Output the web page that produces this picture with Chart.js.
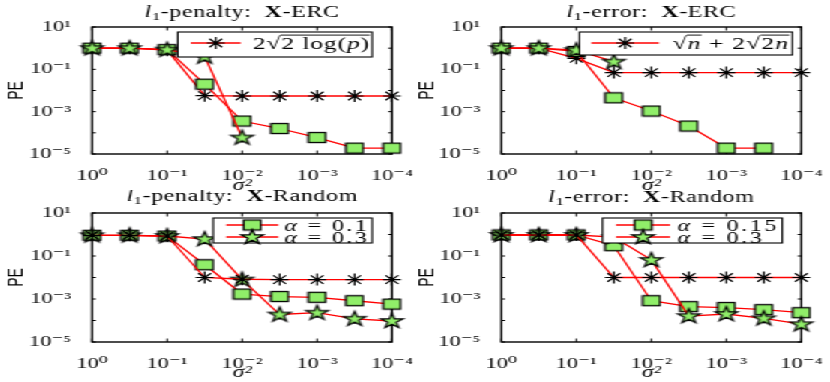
<!DOCTYPE html>
<html><head><meta charset="utf-8">
<script src="https://cdn.jsdelivr.net/npm/chart.js@4.4.1/dist/chart.umd.min.js"></script>
<style>
html,body{margin:0;padding:0;background:#fff;width:830px;height:382px;overflow:hidden}
#wrap{position:absolute;left:0;top:0;width:553.34px;height:382px;transform:scaleX(1.5);transform-origin:0 0}
.cell{position:absolute}
canvas{display:block}
</style></head><body>
<div id="wrap">
 <div class="cell" style="left:0px;top:0px;width:277px;height:195px"><canvas id="k0" width="277" height="195"></canvas></div>
 <div class="cell" style="left:276.67px;top:0px;width:277px;height:195px"><canvas id="k1" width="277" height="195"></canvas></div>
 <div class="cell" style="left:0px;top:190px;width:277px;height:192px"><canvas id="k2" width="277" height="192"></canvas></div>
 <div class="cell" style="left:276.67px;top:190px;width:277px;height:192px"><canvas id="k3" width="277" height="192"></canvas></div>
</div>
<script>
// ---------- data ----------
const sigma2 = [1, 0.3162, 0.1, 0.03162, 0.01, 0.003162, 0.001, 0.0003162, 0.0001];
const xTickValues = [1, 0.1, 0.01, 0.001, 0.0001];
const xTickLabels = ['10\u2070', '10\u207B\u00B9', '10\u207B\u00B2', '10\u207B\u00B3', '10\u207B\u2074'];
const yTickValues = [10, 0.1, 0.001, 0.00001];
const yTickLabels = ['10\u00B9', '10\u207B\u00B9', '10\u207B\u00B3', '10\u207B\u2075'];
const xMarkDecades = [1, 0.1, 0.01, 0.001, 0.0001];
const yMarkDecades = [10, 1, 0.1, 0.01, 0.001, 0.0001, 0.00001];

// l1-penalty, X-ERC
const ercPenAsterisk = [1.0, 1.0, 0.8, 0.0057, 0.0055, 0.0055, 0.0055, 0.0055, 0.0055];
const ercPenSquare   = [1.0, 1.0, 0.85, 0.02, 3.6e-4, 1.6e-4, 6e-5, 1.9e-5, 1.9e-5];
const ercPenStar     = [1.0, 1.0, 0.85, 0.4, 6e-5, null, null, null, null];
// l1-error, X-ERC
const ercErrAsterisk = [1.0, 1.0, 0.33, 0.07, 0.07, 0.07, 0.07, 0.07, 0.07];
const ercErrSquare   = [1.0, 1.0, 0.7, 0.0045, 1.07e-3, 2.1e-4, 1.9e-5, 1.9e-5, null];
const ercErrStar     = [1.0, 1.0, 0.8, 0.23, null, null, null, null, null];
// l1-penalty, X-Random
const rndPenAsterisk = [0.92, 0.92, 0.85, 0.01, 0.0083, 0.008, 0.008, 0.008, 0.008];
const rndPenSquare   = [0.92, 0.92, 0.85, 0.039, 1.7e-3, 1.3e-3, 1.2e-3, 8.3e-4, 5.8e-4];
const rndPenStar     = [0.92, 0.92, 0.85, 0.61, 0.008, 1.9e-4, 2.3e-4, 1.2e-4, 9.5e-5];
// l1-error, X-Random
const rndErrAsterisk = [0.95, 0.95, 0.95, 0.01, 0.01, 0.01, 0.01, 0.01, 0.01];
const rndErrSquare   = [0.95, 0.95, 0.95, 0.3, 8.3e-4, 4.4e-4, 4e-4, 3.2e-4, 2.3e-4];
const rndErrStar     = [0.95, 0.95, 0.95, 0.75, 0.066, 1.6e-4, 2e-4, 1.26e-4, 6.7e-5];

// ---------- styling ----------
const S = "'Liberation Serif','DejaVu Serif','Times New Roman',serif";
const GREEN = '#90ee69';
const RED = '#ff0000';

function makeStarCanvas() {
  const c = document.createElement('canvas'); c.width = 20; c.height = 20;
  const g = c.getContext('2d');
  const R = 7.8, r = R * 0.382;
  g.beginPath();
  for (let k = 0; k < 10; k++) {
    const a = -Math.PI / 2 + k * Math.PI / 5, rr = (k % 2) ? r : R;
    g.lineTo(10 + rr * Math.cos(a), 10.3 + rr * Math.sin(a));
  }
  g.closePath(); g.fillStyle = GREEN; g.fill();
  g.lineWidth = 1.2; g.strokeStyle = '#000'; g.lineJoin = 'miter'; g.stroke();
  return c;
}
function makeSquareCanvas() {
  const c = document.createElement('canvas'); c.width = 14; c.height = 13;
  const g = c.getContext('2d');
  g.fillStyle = GREEN; g.fillRect(1.3, 1.5, 11.4, 10);
  g.lineWidth = 1.3; g.strokeStyle = '#000'; g.strokeRect(1.3, 1.5, 11.4, 10);
  return c;
}
const STAR = makeStarCanvas();
const SQUARE = makeSquareCanvas();

function markerProps(kind) {
  if (kind === 'ast') return {pointStyle: 'star', pointRadius: 6, pointBorderColor: '#000', pointBackgroundColor: '#000', pointBorderWidth: 1.2};
  if (kind === 'sq') return {pointStyle: SQUARE, pointRadius: 6, pointBorderColor: '#000', pointBackgroundColor: GREEN, pointBorderWidth: 1};
  return {pointStyle: STAR, pointRadius: 6, pointBorderColor: '#000', pointBackgroundColor: GREEN, pointBorderWidth: 1};
}
function drawLegendMarker(ctx, kind, x, y) {
  if (kind === 'ast') {
    const r = 6, d = r * Math.SQRT1_2;
    ctx.save(); ctx.strokeStyle = '#000'; ctx.lineWidth = 1.2; ctx.beginPath();
    ctx.moveTo(x - r, y); ctx.lineTo(x + r, y); ctx.moveTo(x, y - r); ctx.lineTo(x, y + r);
    ctx.moveTo(x - d, y - d); ctx.lineTo(x + d, y + d); ctx.moveTo(x - d, y + d); ctx.lineTo(x + d, y - d);
    ctx.stroke(); ctx.restore();
  } else {
    const img = kind === 'sq' ? SQUARE : STAR;
    ctx.drawImage(img, x - img.width / 2, y - img.height / 2);
  }
}

function drawRich(ctx, segs, x, y, align, ls) {
  ctx.save();
  if ('letterSpacing' in ctx) ctx.letterSpacing = ls || '0px';
  let total = 0; const ws = [];
  for (const s of segs) { ctx.font = s.f; const w = ctx.measureText(s.t).width; ws.push(w); total += w; }
  let cx = align === 'center' ? x - total / 2 : (align === 'right' ? x - total : x);
  let ovStart = null, ovEnd = null, ovY = null;
  ctx.fillStyle = '#000'; ctx.textBaseline = 'alphabetic'; ctx.textAlign = 'left';
  segs.forEach((s, i) => {
    ctx.font = s.f;
    ctx.fillText(s.t, cx, y + (s.dy || 0));
    if (s.root) { const m = ctx.measureText(s.t); ovY = y - m.actualBoundingBoxAscent + 0.6; }
    if (s.ov) { if (ovStart === null) ovStart = cx; ovEnd = cx + ws[i]; }
    if (s.ovEnd) {
      ctx.save(); ctx.strokeStyle = '#000'; ctx.lineWidth = 0.9; ctx.beginPath();
      ctx.moveTo(ovStart - 0.5, ovY); ctx.lineTo(ovEnd, ovY); ctx.stroke(); ctx.restore();
      ovStart = null;
    }
    cx += ws[i];
  });
  ctx.restore();
  return total;
}

const T = 16, LF = '17px ' + S, AF = '16px ' + S;
function titleSegs(kind, name) {
  return [{t: 'l', f: 'italic ' + T + 'px ' + S}, {t: '1', f: '11px ' + S, dy: 3},
          {t: '-' + kind + ':  ', f: T + 'px ' + S}, {t: 'X', f: 'bold ' + T + 'px ' + S},
          {t: '-' + name, f: T + 'px ' + S}];
}

const charts = [
  { id: 'k0', areaL: 61.33, padR: 15.67, padT: 27, xH: 41, peP: 3,
    title: titleSegs('penalty', 'ERC'), titleY: 16.7,
    series: [{v: ercPenStar, k: 'star', o: 0}, {v: ercPenSquare, k: 'sq', o: 1}, {v: ercPenAsterisk, k: 'ast', o: 2}],
    legend: {right: 13.3, top: 5, h: 25, padL: 8.7, line: 33.3, gap: 8, padR: 1.5, ls: '0.6px',
      rows: [{k: 'ast', cy: 16, segs: [{t: '2', f: LF}, {t: '\u221A', f: LF, root: 1}, {t: '2 log(', f: LF, ov: 1}, {t: 'p', f: 'italic ' + LF, ov: 1}, {t: ')', f: LF, ov: 1, ovEnd: 1}]}]} },
  { id: 'k1', areaL: 57.33, padR: 19.67, padT: 27, xH: 41, peP: 0,
    title: titleSegs('error', 'ERC'), titleY: 16.7,
    series: [{v: ercErrStar, k: 'star', o: 0}, {v: ercErrSquare, k: 'sq', o: 1}, {v: ercErrAsterisk, k: 'ast', o: 2}],
    legend: {right: 6, top: 5, h: 23, padL: 8, line: 45, gap: 9, padR: 2, ls: '0.8px',
      rows: [{k: 'ast', cy: 16, segs: [{t: '\u221A', f: LF, root: 1}, {t: 'n', f: 'italic ' + LF, ov: 1, ovEnd: 1}, {t: ' + 2', f: LF}, {t: '\u221A', f: LF, root: 1}, {t: '2', f: LF, ov: 1}, {t: 'n', f: 'italic ' + LF, ov: 1, ovEnd: 1}]}]} },
  { id: 'k2', areaL: 61.33, padR: 15.67, padT: 23, xH: 40, peP: 3,
    title: titleSegs('penalty', 'Random'), titleY: 10.7,
    series: [{v: rndPenAsterisk, k: 'ast', o: 0}, {v: rndPenStar, k: 'star', o: 1}, {v: rndPenSquare, k: 'sq', o: 2}],
    legend: {right: 13.3, top: 5, h: 25, padL: 8.7, line: 34.7, gap: 4, padR: 2, ls: '1.6px',
      rows: [{k: 'sq', cy: 12, segs: [{t: '\u03B1', f: 'italic ' + AF}, {t: ' = 0.1', f: AF}]},
             {k: 'star', cy: 24, segs: [{t: '\u03B1', f: 'italic ' + AF}, {t: ' = 0.3', f: AF}]}]} },
  { id: 'k3', areaL: 57.33, padR: 19.67, padT: 23, xH: 40, peP: 0,
    title: titleSegs('error', 'Random'), titleY: 11.7,
    series: [{v: rndErrAsterisk, k: 'ast', o: 0}, {v: rndErrStar, k: 'star', o: 1}, {v: rndErrSquare, k: 'sq', o: 2}],
    legend: {right: 12.7, top: 5, h: 25, padL: 9, line: 36, gap: 5, padR: 2, ls: '1.8px',
      rows: [{k: 'sq', cy: 12, segs: [{t: '\u03B1', f: 'italic ' + AF}, {t: ' = 0.15', f: AF}]},
             {k: 'star', cy: 24, segs: [{t: '\u03B1', f: 'italic ' + AF}, {t: ' = 0.3', f: AF}]}]} }
];
const cfgById = {};
charts.forEach(c => cfgById[c.id] = c);

const decor = {
  id: 'decor',
  beforeDatasetsDraw(chart) {
    const {ctx, chartArea: a} = chart;
    const xs = chart.scales.x, ys = chart.scales.y;
    ctx.save();
    ctx.strokeStyle = '#000'; ctx.lineWidth = 1.4;
    ctx.strokeRect(a.left, a.top, a.right - a.left, a.bottom - a.top);
    ctx.lineWidth = 1; ctx.beginPath();
    xMarkDecades.forEach(v => { const p = xs.getPixelForValue(v); ctx.moveTo(p, a.bottom); ctx.lineTo(p, a.bottom - 3.5); ctx.moveTo(p, a.top); ctx.lineTo(p, a.top + 3.5); });
    yMarkDecades.forEach(v => { const p = ys.getPixelForValue(v); ctx.moveTo(a.left, p); ctx.lineTo(a.left + 2.5, p); ctx.moveTo(a.right, p); ctx.lineTo(a.right - 2.5, p); });
    ctx.stroke(); ctx.restore();
  },
  afterDraw(chart) {
    const cfg = cfgById[chart.canvas.id]; if (!cfg) return;
    const {ctx, chartArea: a} = chart;
    drawRich(ctx, cfg.title, (a.left + a.right) / 2, cfg.titleY, 'center', '0.4px');
    const L = cfg.legend;
    ctx.save();
    if ('letterSpacing' in ctx) ctx.letterSpacing = L.ls;
    let tw = 0;
    L.rows.forEach(r => { let w = 0; r.segs.forEach(s => { ctx.font = s.f; w += ctx.measureText(s.t).width; }); tw = Math.max(tw, w); });
    ctx.restore();
    const bw = L.padL + L.line + L.gap + tw + L.padR;
    const bx = a.right - L.right - bw, by = a.top + L.top;
    ctx.save();
    ctx.fillStyle = '#fff'; ctx.fillRect(bx, by, bw, L.h);
    ctx.strokeStyle = '#000'; ctx.lineWidth = 1.1; ctx.strokeRect(bx, by, bw, L.h);
    L.rows.forEach(r => {
      const cy = a.top + r.cy;
      ctx.strokeStyle = RED; ctx.lineWidth = 1.3; ctx.beginPath();
      ctx.moveTo(bx + L.padL, cy); ctx.lineTo(bx + L.padL + L.line, cy); ctx.stroke();
      drawLegendMarker(ctx, r.k, bx + L.padL + L.line / 2, cy);
      drawRich(ctx, r.segs, bx + L.padL + L.line + L.gap, cy + 5.5, 'left', L.ls);
    });
    ctx.restore();
  }
};

function tickLabel(values, labels) {
  return v => { const i = values.findIndex(t => Math.abs(Math.log10(t) - Math.log10(v)) < 1e-6); return i >= 0 ? labels[i] : ''; };
}

charts.forEach(cfg => {
  const datasets = cfg.series.map(s => Object.assign({
    data: sigma2.map((x, i) => ({x: x, y: s.v[i]})),
    borderColor: RED, borderWidth: 1.3, backgroundColor: RED,
    tension: 0, clip: false, spanGaps: false, order: s.o, showLine: true
  }, markerProps(s.k)));
  new Chart(document.getElementById(cfg.id), {
    type: 'line',
    data: {datasets: datasets},
    plugins: [decor],
    options: {
      responsive: false, animation: false, events: [],
      layout: {padding: {left: 0, right: cfg.padR, top: cfg.padT, bottom: 0}},
      plugins: {legend: {display: false}, tooltip: {enabled: false}, title: {display: false}},
      scales: {
        x: {
          type: 'logarithmic', reverse: true, min: 1e-4, max: 1,
          grid: {display: false}, border: {display: false},
          afterBuildTicks: s => { s.ticks = xTickValues.map(v => ({value: v})); },
          afterFit: s => { s.height = cfg.xH; s.paddingLeft = 0; s.paddingRight = 0; },
          ticks: {autoSkip: false, maxRotation: 0, padding: 5, color: '#000', font: {family: S, size: 15}, callback: tickLabel(xTickValues, xTickLabels)},
          title: {display: true, text: '\u03C3\u00B2', color: '#000', font: {family: S, size: 16, style: 'italic'}, padding: {top: 0, bottom: 0}}
        },
        y: {
          type: 'logarithmic', min: 1e-5, max: 10,
          grid: {display: false}, border: {display: false},
          afterBuildTicks: s => { s.ticks = yTickValues.map(v => ({value: v})); },
          afterFit: s => { s.width = cfg.areaL; s.paddingTop = 0; s.paddingBottom = 0; },
          ticks: {autoSkip: false, padding: 6, color: '#000', font: {family: S, size: 15}, callback: tickLabel(yTickValues, yTickLabels)},
          title: {display: true, text: 'PE', color: '#000', font: {family: "'Liberation Sans', Arial, sans-serif", size: 14}, padding: {top: cfg.peP, bottom: 0}}
        }
      }
    }
  });
});
</script>
</body></html>
